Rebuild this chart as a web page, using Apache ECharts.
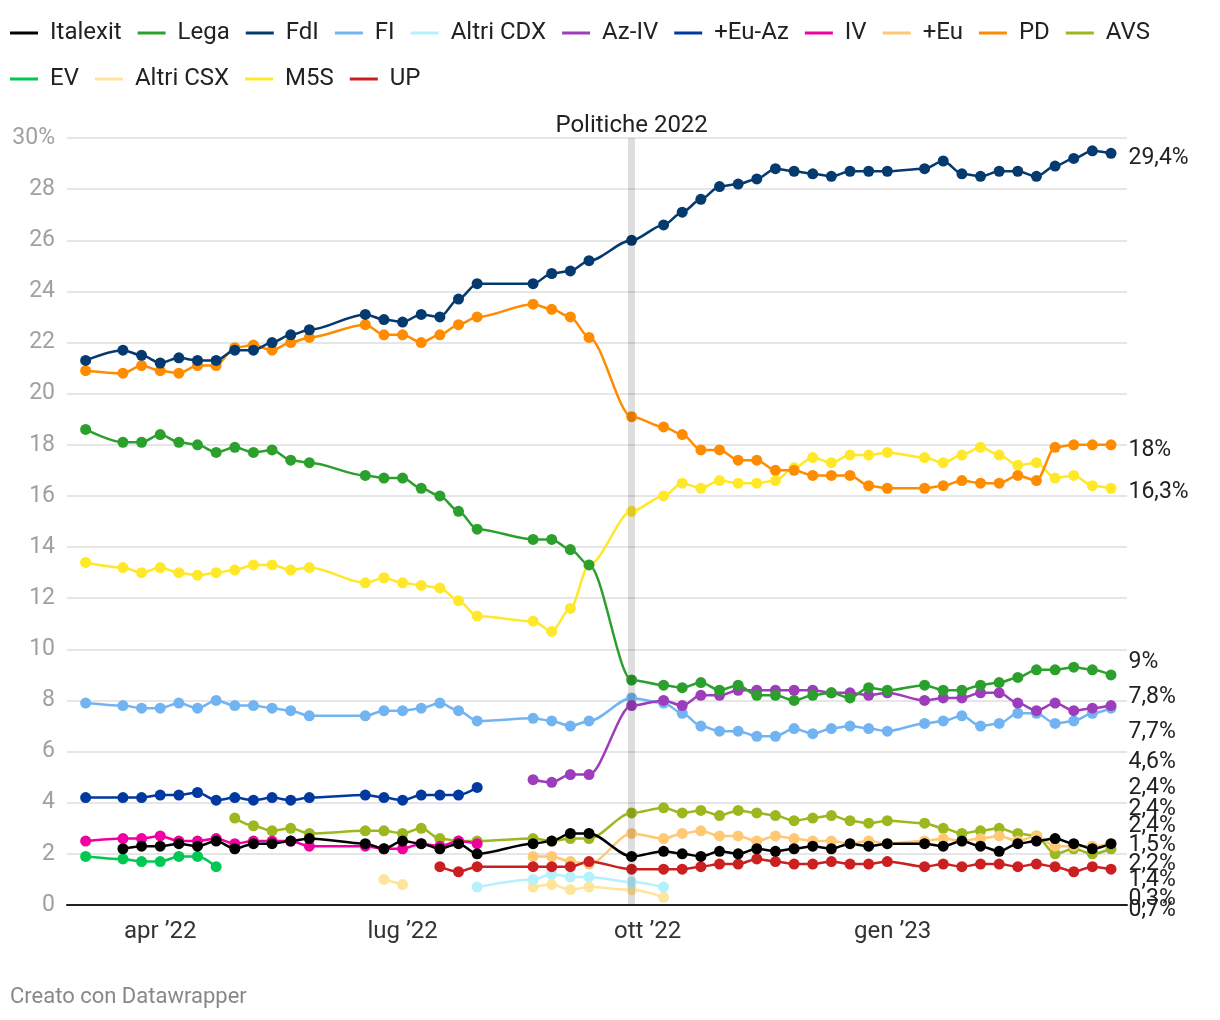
<!DOCTYPE html>
<html><head><meta charset="utf-8">
<script src="https://cdn.jsdelivr.net/npm/echarts@6/dist/echarts.min.js"></script>
<style>html,body{margin:0;padding:0;background:#fff}#c{width:1220px;height:1020px}</style>
</head><body><div id="c"></div>
<script>
const N = null;
const dates = [
  '2022-03-04','2022-03-18','2022-03-25','2022-04-01','2022-04-08','2022-04-15','2022-04-22','2022-04-29','2022-05-06','2022-05-13','2022-05-20','2022-05-27',
  '2022-06-17','2022-06-24','2022-07-01','2022-07-08','2022-07-15','2022-07-22','2022-07-29',
  '2022-08-19','2022-08-26','2022-09-02','2022-09-09',
  '2022-09-25',
  '2022-10-07','2022-10-14','2022-10-21','2022-10-28','2022-11-04','2022-11-11','2022-11-18','2022-11-25','2022-12-02','2022-12-09','2022-12-16','2022-12-23','2022-12-30',
  '2023-01-13','2023-01-20','2023-01-27','2023-02-03','2023-02-10','2023-02-17','2023-02-24','2023-03-03','2023-03-10','2023-03-17','2023-03-24'
];
const italexit = [N, 2.2,2.3,2.3,2.4,2.3,2.5,2.2,2.4,2.4,2.5,2.6, 2.4,2.2,2.5,2.4,2.2,2.4,2.0, 2.4,2.5,2.8,2.8, 1.9, 2.1,2.0,1.9,2.1,2.0,2.2,2.1,2.2,2.3,2.2,2.4,2.3,2.4, 2.4,2.3,2.5,2.3,2.1,2.4,2.5,2.6,2.4,2.2,2.4];
const lega = [18.6, 18.1,18.1,18.4,18.1,18.0,17.7,17.9,17.7,17.8,17.4,17.3, 16.8,16.7,16.7,16.3,16.0,15.4,14.7, 14.3,14.3,13.9,13.3, 8.8, 8.6,8.5,8.7,8.4,8.6,8.2,8.2,8.0,8.2,8.3,8.1,8.5,8.4, 8.6,8.4,8.4,8.6,8.7,8.9,9.2,9.2,9.3,9.2,9.0];
const fdi = [21.3, 21.7,21.5,21.2,21.4,21.3,21.3,21.7,21.7,22.0,22.3,22.5, 23.1,22.9,22.8,23.1,23.0,23.7,24.3, 24.3,24.7,24.8,25.2, 26.0, 26.6,27.1,27.6,28.1,28.2,28.4,28.8,28.7,28.6,28.5,28.7,28.7,28.7, 28.8,29.1,28.6,28.5,28.7,28.7,28.5,28.9,29.2,29.5,29.4];
const fi = [7.9, 7.8,7.7,7.7,7.9,7.7,8.0,7.8,7.8,7.7,7.6,7.4, 7.4,7.6,7.6,7.7,7.9,7.6,7.2, 7.3,7.2,7.0,7.2, 8.1, 7.9,7.5,7.0,6.8,6.8,6.6,6.6,6.9,6.7,6.9,7.0,6.9,6.8, 7.1,7.2,7.4,7.0,7.1,7.5,7.5,7.1,7.2,7.5,7.7];
const altriCdx = [N, N,N,N,N,N,N,N,N,N,N,N, N,N,N,N,N,N,0.7, 1.0,1.2,1.1,1.1, 0.9, 0.7,N,N,N,N,N,N,N,N,N,N,N,N, N,N,N,N,N,N,N,N,N,N,N];
const azIv = [N, N,N,N,N,N,N,N,N,N,N,N, N,N,N,N,N,N,N, 4.9,4.8,5.1,5.1, 7.8, 8.0,7.8,8.2,8.2,8.4,8.4,8.4,8.4,8.4,8.3,8.3,8.2,8.3, 8.0,8.1,8.1,8.3,8.3,7.9,7.6,7.9,7.6,7.7,7.8];
const euAz = [4.2, 4.2,4.2,4.3,4.3,4.4,4.1,4.2,4.1,4.2,4.1,4.2, 4.3,4.2,4.1,4.3,4.3,4.3,4.6, N,N,N,N, N, N,N,N,N,N,N,N,N,N,N,N,N,N, N,N,N,N,N,N,N,N,N,N,N];
const iv = [2.5, 2.6,2.6,2.7,2.5,2.5,2.6,2.4,2.5,2.5,2.5,2.3, 2.3,2.2,2.2,2.4,2.3,2.5,2.4, N,N,N,N, N, N,N,N,N,N,N,N,N,N,N,N,N,N, N,N,N,N,N,N,N,N,N,N,N];
const piuEu = [N, N,N,N,N,N,N,N,N,N,N,N, N,N,N,N,N,N,N, 1.9,1.9,1.7,1.6, 2.8, 2.6,2.8,2.9,2.7,2.7,2.5,2.7,2.6,2.5,2.5,2.4,2.5,2.4, 2.5,2.6,2.5,2.6,2.7,2.5,2.7,2.3,2.3,2.3,2.4];
const pd = [20.9, 20.8,21.1,20.9,20.8,21.1,21.1,21.8,21.9,21.7,22.0,22.2, 22.7,22.3,22.3,22.0,22.3,22.7,23.0, 23.5,23.3,23.0,22.2, 19.1, 18.7,18.4,17.8,17.8,17.4,17.4,17.0,17.0,16.8,16.8,16.8,16.4,16.3, 16.3,16.4,16.6,16.5,16.5,16.8,16.6,17.9,18.0,18.0,18.0];
const avs = [N, N,N,N,N,N,N,3.4,3.1,2.9,3.0,2.8, 2.9,2.9,2.8,3.0,2.6,2.5,2.5, 2.6,2.5,2.6,2.6, 3.6, 3.8,3.6,3.7,3.5,3.7,3.6,3.5,3.3,3.4,3.5,3.3,3.2,3.3, 3.2,3.0,2.8,2.9,3.0,2.8,2.7,2.0,2.2,2.0,2.2];
const ev = [1.9, 1.8,1.7,1.7,1.9,1.9,1.5,N,N,N,N,N, N,N,N,N,N,N,N, N,N,N,N, N, N,N,N,N,N,N,N,N,N,N,N,N,N, N,N,N,N,N,N,N,N,N,N,N];
const altriCsx = [N, N,N,N,N,N,N,N,N,N,N,N, N,1.0,0.8,N,N,N,N, 0.7,0.8,0.6,0.7, 0.6, 0.3,N,N,N,N,N,N,N,N,N,N,N,N, N,N,N,N,N,N,N,N,N,N,N];
const m5s = [13.4, 13.2,13.0,13.2,13.0,12.9,13.0,13.1,13.3,13.3,13.1,13.2, 12.6,12.8,12.6,12.5,12.4,11.9,11.3, 11.1,10.7,11.6,13.3, 15.4, 16.0,16.5,16.3,16.6,16.5,16.5,16.6,17.1,17.5,17.3,17.6,17.6,17.7, 17.5,17.3,17.6,17.9,17.6,17.2,17.3,16.7,16.8,16.4,16.3];
const up = [N, N,N,N,N,N,N,N,N,N,N,N, N,N,N,N,1.5,1.3,1.5, 1.5,1.5,1.5,1.7, 1.4, 1.4,1.4,1.5,1.6,1.6,1.8,1.7,1.6,1.6,1.7,1.6,1.6,1.7, 1.5,1.6,1.5,1.6,1.6,1.5,1.6,1.5,1.3,1.5,1.4];

const legendOrder = ['Italexit','Lega','FdI','FI','Altri CDX','Az-IV','+Eu-Az','IV','+Eu','PD','AVS','EV','Altri CSX','M5S','UP'];
const xTickDates = ['2022-04-01','2022-07-01','2022-10-01','2023-01-01'];
const xTickLabels = ['apr \u201922','lug \u201922','ott \u201922','gen \u201923'];
const yTicks = [0,2,4,6,8,10,12,14,16,18,20,22,24,26,28,30];
const electionDate = '2022-09-25';
const electionLabel = 'Politiche 2022';
const xRange = ['2022-02-25', '2023-03-30'];

const seriesDefs = [
  {name:'M5S', data:m5s, color:'#ffe829'},
  {name:'Altri CSX', data:altriCsx, color:'#ffe49b'},
  {name:'EV', data:ev, color:'#00c853'},
  {name:'AVS', data:avs, color:'#9bb81f'},
  {name:'PD', data:pd, color:'#ff8c00'},
  {name:'+Eu', data:piuEu, color:'#ffc874'},
  {name:'+Eu-Az', data:euAz, color:'#0039a0'},
  {name:'Altri CDX', data:altriCdx, color:'#b4f1fc'},
  {name:'FI', data:fi, color:'#72b4f2'},
  {name:'Az-IV', data:azIv, color:'#9e3dbb'},
  {name:'IV', data:iv, color:'#f000a0'},
  {name:'UP', data:up, color:'#cc1f1f'},
  {name:'FdI', data:fdi, color:'#053a6e'},
  {name:'Lega', data:lega, color:'#2ca02c'},
  {name:'Italexit', data:italexit, color:'#000000'}
];
// vertical offsets (px) of the end labels, to spread them like the reference
const endLabelDy = {'FdI':5,'PD':5,'M5S':4,'Lega':-13,'Az-IV':-8,'FI':24,'+Eu-Az':-25,'IV':-55,'+Eu':-34,'Italexit':-17,'EV':-21,'AVS':15,'UP':11,'Altri CSX':2,'Altri CDX':23};

function fmt(v){ return (Number.isInteger(v) ? String(v) : v.toFixed(1).replace('.', ',')) + '%'; }
function lastVal(arr){ for (let i = arr.length-1; i >= 0; i--) if (arr[i] !== null) return arr[i]; return null; }
function ts(d){ const p = d.split('-').map(Number); return Date.UTC(p[0], p[1]-1, p[2]); }

const FONT = 'Roboto';
const X_MIN = ts(xRange[0]), X_MAX = ts(xRange[1]);
const dateTs = dates.map(ts);
const tickTimes = xTickDates.map(ts);

const chart = echarts.init(document.getElementById('c'), null, {renderer:'canvas'});

const series = seriesDefs.map(s => {
  const lv = lastVal(s.data);
  return {
    name: s.name, type: 'line',
    data: dateTs.map((t,i) => [t, s.data[i]]),
    connectNulls: false,
    smooth: 0.3, smoothMonotone: 'x',
    symbol: 'circle', symbolSize: 11, showSymbol: true, showAllSymbol: true,
    lineStyle: {width: 2.5, color: s.color},
    itemStyle: {color: s.color, borderWidth: 0},
    emphasis: {disabled: true},
    animation: false,
    markPoint: {
      symbol: 'circle', symbolSize: 1, silent: true, animation: false,
      itemStyle: {color: 'rgba(0,0,0,0)'},
      label: {show: true, position: 'right', distance: 1, offset: [0, endLabelDy[s.name] || 0],
        formatter: fmt(lv), color: '#222', fontSize: 23, fontFamily: FONT},
      data: [{coord: [X_MAX, lv], value: lv}]
    }
  };
});

series.push({
  name: 'band', type: 'line', data: [], z: 10, silent: true, animation: false,
  markLine: {
    symbol: ['none','none'], silent: true, animation: false,
    lineStyle: {color: 'rgba(0,0,0,0.13)', width: 7, type: 'solid'},
    label: {show: true, position: 'end', formatter: electionLabel, color: '#222', fontSize: 24, fontFamily: FONT, distance: 0},
    emphasis: {disabled: true},
    data: [{xAxis: ts(electionDate)}]
  }
});

chart.setOption({
  backgroundColor: '#fff',
  animation: false,
  textStyle: {fontFamily: FONT},
  legend: {
    data: legendOrder, left: 10, top: 18, width: 1170, padding: 0,
    icon: 'rect', itemWidth: 28, itemHeight: 3, itemGap: 16,
    selectedMode: false,
    textStyle: {fontSize: 24, color: '#222', fontFamily: FONT, padding: [0,0,0,7], lineHeight: 30}
  },
  grid: {left: 67, right: 93, top: 138, bottom: 115},
  xAxis: {
    type: 'value', min: X_MIN, max: X_MAX,
    axisLine: {show: true, onZero: false, lineStyle: {color: '#222', width: 2}},
    axisTick: {show: false},
    splitLine: {show: false},
    axisLabel: {
      customValues: tickTimes,
      formatter: v => { const i = tickTimes.findIndex(t => Math.abs(t - v) < 43200000); return i >= 0 ? xTickLabels[i] : ''; },
      fontSize: 24, color: '#333', margin: 15, fontFamily: FONT
    }
  },
  yAxis: {
    type: 'value', min: yTicks[0], max: yTicks[yTicks.length-1], interval: 2,
    axisLine: {show: false}, axisTick: {show: false},
    splitLine: {lineStyle: {color: '#e6e6e6', width: 2}},
    axisLabel: {formatter: v => v === 30 ? '30%' : String(v), color: '#a0a0a0', fontSize: 23, margin: 12, fontFamily: FONT}
  },
  graphic: [{type: 'text', left: 10, top: 986, style: {text: 'Creato con Datawrapper', fill: '#888', fontSize: 22, fontFamily: FONT}}],
  series: series
});
</script></body></html>
